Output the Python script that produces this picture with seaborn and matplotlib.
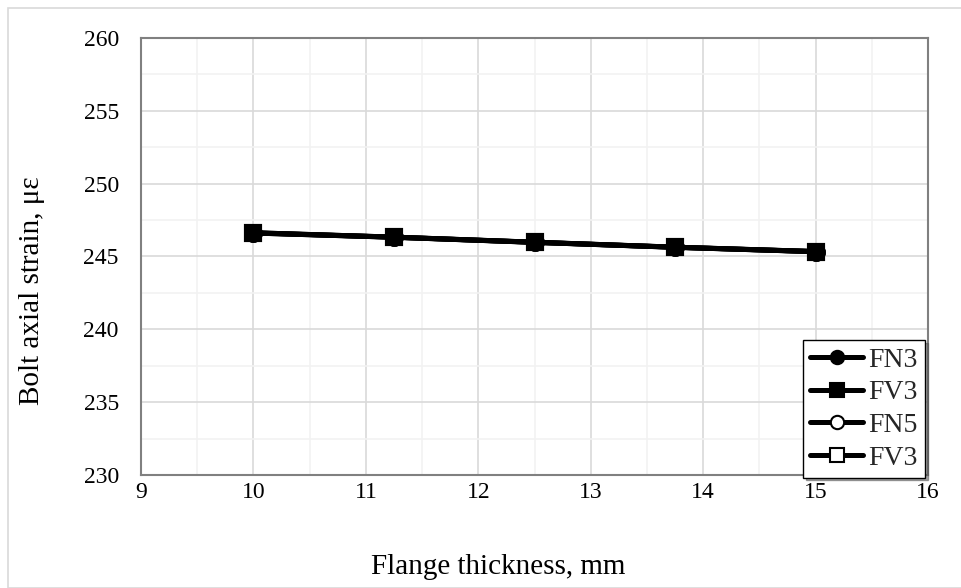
import matplotlib
matplotlib.use("Agg")
import matplotlib.pyplot as plt
from matplotlib.patches import Rectangle
from matplotlib.ticker import MultipleLocator
import seaborn as sns
import pandas as pd

# Flange thickness (mm) and bolt axial strain (microstrain)
thickness = [10.0, 11.25, 12.5, 13.75, 15.0]
fn3 = [246.63, 246.33, 245.98, 245.64, 245.34]
fv3 = [246.61, 246.32, 245.97, 245.63, 245.33]
fn5 = [246.63, 246.33, 245.98, 245.64, 245.34]
fv3b = [246.61, 246.32, 245.97, 245.63, 245.33]

series_names = ["FN3", "FV3", "FN5", "FV3"]
series_values = [fn3, fv3, fn5, fv3b]
series_markers = ["o", "s", "o", "s"]
series_fill = [True, True, False, False]

sns.set_theme(style="white")
plt.rcParams["font.family"] = ["Liberation Serif", "DejaVu Serif"]

fig = plt.figure(figsize=(9.62, 5.88), dpi=100)
ax = fig.add_axes([0.1466, 0.1922, 0.8181, 0.7432])

# outer chart frame
fig.patches.append(Rectangle((8 / 962, 0), 1 - 8 / 962, 1 - 8 / 588,
                             transform=fig.transFigure, fill=False,
                             edgecolor="#d9d9d9", linewidth=1.2))

# open-marker series go underneath, filled ones on top
handles = [None] * 4
for i in [3, 2, 1, 0]:
    df = pd.DataFrame({"t": thickness, "v": series_values[i]})
    sns.lineplot(data=df, x="t", y="v", ax=ax, color="black", linewidth=3.6,
                 marker=series_markers[i], markersize=12,
                 markerfacecolor="black" if series_fill[i] else "white",
                 markeredgecolor="black", markeredgewidth=1.5,
                 label=series_names[i], legend=False)
    handles[i] = ax.lines[-1]

ax.set_xlim(9, 16)
ax.set_ylim(230, 260)
ax.xaxis.set_major_locator(MultipleLocator(1))
ax.xaxis.set_minor_locator(MultipleLocator(0.5))
ax.yaxis.set_major_locator(MultipleLocator(5))
ax.yaxis.set_minor_locator(MultipleLocator(2.5))
ax.grid(which="major", color="#d9d9d9", linewidth=1.2)
ax.grid(which="minor", color="#f2f2f2", linewidth=1.2)
ax.set_axisbelow(True)
ax.tick_params(which="both", length=0, labelsize=17, colors="black")
ax.tick_params(axis="y", pad=16)
ax.tick_params(axis="x", pad=5)

for s in ax.spines.values():
    s.set_color("#808080")
    s.set_linewidth(1.5)

ax.set_xlabel("Flange thickness, mm", fontsize=21, color="black")
ax.set_ylabel("Bolt axial strain, με", fontsize=21, color="black")
ax.xaxis.set_label_coords(0.454, -0.18)
ax.yaxis.set_label_coords(-0.122, 0.421)

leg = ax.legend(handles=handles, labels=series_names, loc="lower right",
                bbox_to_anchor=(0.996, -0.006),
                fontsize=20, frameon=True, fancybox=False, shadow=True,
                borderaxespad=0.0, handlelength=1.9, handletextpad=0.2,
                labelspacing=0.26, markerscale=0.8, borderpad=0.25)
leg.get_frame().set_edgecolor("black")
leg.get_frame().set_linewidth(1.0)

fig.savefig("out.png", dpi=100)
